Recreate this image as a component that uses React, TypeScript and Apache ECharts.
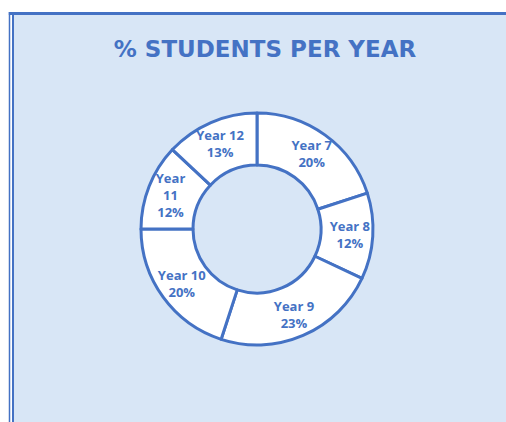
import React, { useEffect, useRef } from "react";
import * as echarts from "echarts";

const categories = ["Year 7", "Year 8", "Year 9", "Year 10", "Year 11", "Year 12"];
const percents = [20, 12, 23, 20, 12, 13];
const labelTexts = ["Year 7", "Year 8", "Year 9", "Year 10", "Year\n11", "Year 12"];
const titleText = "% STUDENTS PER YEAR";

const BLUE = "#4472C4";
const BG = "#d8e6f6";

export default function App() {
  const ref = useRef<HTMLDivElement>(null);
  useEffect(() => {
    if (!ref.current) return;
    const chart = echarts.init(ref.current, null, { renderer: "svg" });
    chart.setOption({
      animation: false,
      backgroundColor: "#ffffff",
      title: {
        text: titleText,
        left: 260,
        top: 32,
        textAlign: "center",
        textStyle: {
          fontFamily: "DejaVu Sans",
          fontWeight: "bold",
          fontSize: 23,
          color: BLUE,
        },
      },
      graphic: [
        {
          type: "rect",
          z: -10,
          silent: true,
          shape: { x: 12, y: 12, width: 520, height: 430 },
          style: { fill: BG },
        },
        {
          type: "line",
          z: -9,
          silent: true,
          shape: { x1: 9.5, y1: 12, x2: 9.5, y2: 430 },
          style: { stroke: BLUE, lineWidth: 1.5 },
        },
        {
          type: "line",
          z: -9,
          silent: true,
          shape: { x1: 13, y1: 12, x2: 13, y2: 430 },
          style: { stroke: BLUE, lineWidth: 2 },
        },
        {
          type: "line",
          z: -9,
          silent: true,
          shape: { x1: 8.8, y1: 13.5, x2: 520, y2: 13.5 },
          style: { stroke: BLUE, lineWidth: 3 },
        },
      ],
      series: [
        {
          type: "pie",
          center: [257, 229],
          radius: [64, 116],
          startAngle: 90,
          clockwise: true,
          avoidLabelOverlap: false,
          itemStyle: { color: "#ffffff", borderColor: BLUE, borderWidth: 3 },
          emphasis: { disabled: true },
          label: {
            show: true,
            position: "inside",
            color: BLUE,
            fontFamily: "Open Sans",
            fontWeight: "bold",
            fontSize: 13,
            lineHeight: 17,
            formatter: (p: any) => `${labelTexts[p.dataIndex]}\n${p.value}%`,
          },
          labelLine: { show: false },
          data: categories.map((c, i) => ({ name: c, value: percents[i] })),
        },
      ],
    });
    return () => chart.dispose();
  }, []);
  return (
    <div
      ref={ref}
      style={{ position: "fixed", left: 0, top: 0, width: 506, height: 422 }}
    />
  );
}
